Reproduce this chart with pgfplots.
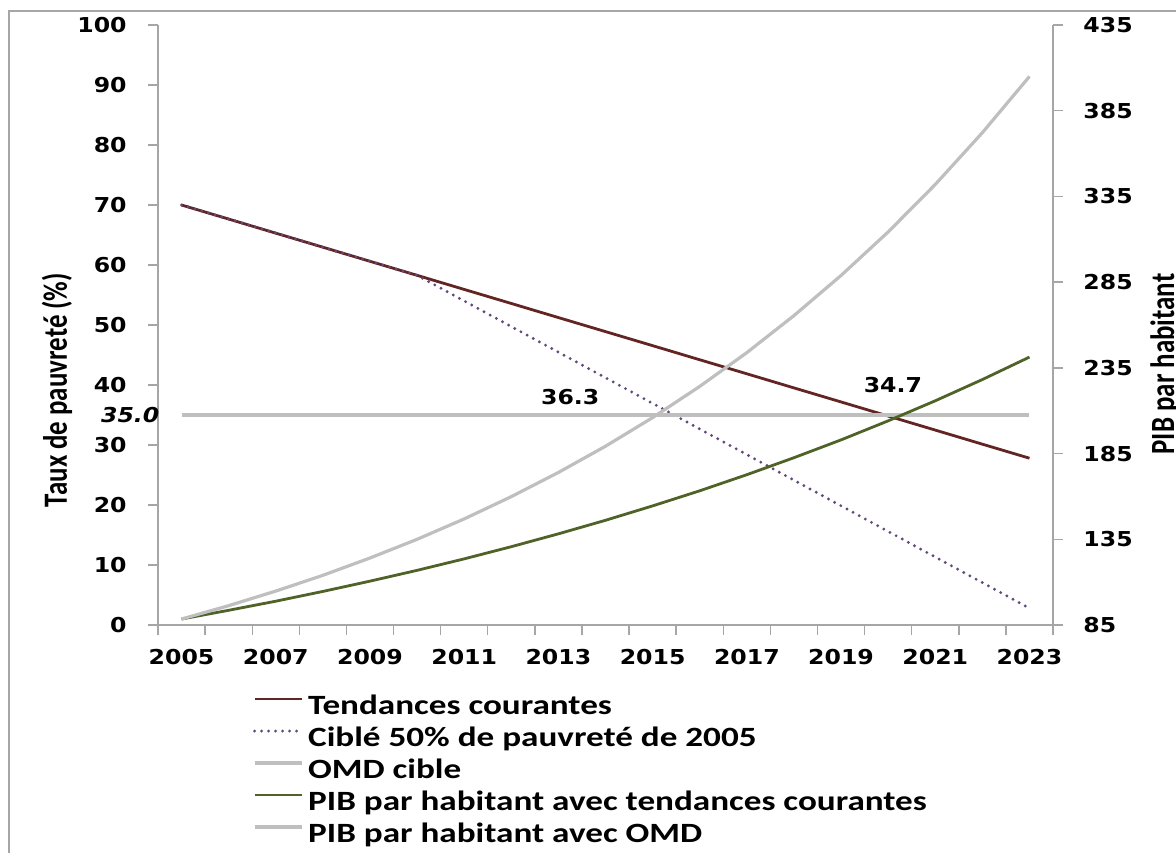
\documentclass[border=0pt]{standalone}
\usepackage{fontspec}
\setmainfont{Carlito}
\newfontfamily\legfont{Carlito}[FakeStretch=1.26]
\newfontfamily\labfont{Carlito}
\newfontfamily\numfont{DejaVu Sans}[FakeStretch=1.15]
\usepackage{pgfplots}
\usepackage{pgfplotstable}
\pgfplotsset{compat=1.18}

\definecolor{tcred}{HTML}{632523}
\definecolor{ciblepurple}{HTML}{604A7B}
\definecolor{lgray}{HTML}{BFBFBF}
\definecolor{pibgreen}{HTML}{4F6228}
\definecolor{axisgray}{HTML}{A6A6A6}

\pgfplotstableread{
i  year tc     cible  omd pib   pibomd
0  2005 70.00  70.00  35  88.5  88.5
1  2006 67.66  67.66  35  93.6  96.3
2  2007 65.31  65.31  35  98.9  104.8
3  2008 62.97  62.97  35  104.6 114.0
4  2009 60.62  60.62  35  110.6 124.1
5  2010 58.28  58.28  35  116.9 135.0
6  2011 55.93  54.01  35  123.6 146.9
7  2012 53.59  49.74  35  130.7 159.9
8  2013 51.24  45.48  35  138.2 174.0
9  2014 48.90  41.21  35  146.1 189.3
10 2015 46.56  36.94  35  154.5 206.0
11 2016 44.21  32.67  35  163.3 224.2
12 2017 41.87  28.40  35  172.7 243.9
13 2018 39.52  24.14  35  182.6 265.5
14 2019 37.18  19.87  35  193.0 288.9
15 2020 34.83  15.60  35  204.1 314.3
16 2021 32.49  11.33  35  215.8 342.0
17 2022 30.14  7.07   35  228.2 372.2
18 2023 27.80  2.80   35  241.3 405.0
}\data

\tikzset{
  tcline/.style={tcred, line width=1.4bp},
  cibleline/.style={ciblepurple, line width=1.6bp, line cap=round, dash pattern=on 0pt off 3.5bp},
  omdline/.style={lgray, line width=1.6bp},
  pibline/.style={pibgreen, line width=1.4bp},
  numtext/.style={font=\numfont\bfseries\fontsize{10.3}{12}\selectfont},
}

\pgfplotsset{
  twin/.style={
    at={(79bp,-312.5bp)}, anchor=south west, scale only axis,
    width=447.5bp, height=300bp,
    xmin=-0.5, xmax=18.5, clip=false,
    axis line style={draw=axisgray, line width=0.7bp},
    tick align=outside, major tick length=5bp,
    tick style={draw=axisgray, line width=0.7bp},
    tick label style={numtext, inner sep=0pt},
    /pgf/number format/assume math mode=true,
  },
}

\begin{document}
\begin{tikzpicture}[x=0.5bp, y=-0.5bp]
\useasboundingbox (0,0) rectangle (1176,852);
\draw[axisgray, line width=0.6bp] (9,870) -- (9,11) -- (1190,11);

\begin{axis}[twin,
  ymin=0, ymax=100,
  axis x line*=bottom, axis y line*=left,
  xtick={-0.5,0.5,...,18.5}, xticklabels={},
  extra x ticks={0,2,...,18},
  extra x tick labels={2005,2007,2009,2011,2013,2015,2017,2019,2021,2023},
  extra x tick style={major tick length=0pt},
  xticklabel style={anchor=base, yshift=-19.75bp},
  ytick={0,10,...,100},
  yticklabel style={anchor=east, xshift=-10.5bp},
]
\addplot[tcline] table[x=i, y=tc] {\data};
\addplot[cibleline] table[x=i, y=cible] {\data};
\addplot[omdline] table[x=i, y=omd] {\data};
\node[numtext] at (axis cs:8.25,38) {36.3};
\node[numtext] at (axis cs:15.1,40) {34.7};
\node[font=\numfont\bfseries\itshape\fontsize{10.3}{12}\selectfont] at (axis cs:-1.09,35) {35.0};
\end{axis}

\begin{axis}[twin,
  ymin=85, ymax=435,
  axis y line*=right, axis x line=none,
  ytick={85,135,...,435},
  yticklabel style={anchor=west, xshift=10bp},
  legend style={at={(0.1061,-0.1117)}, anchor=north west, draw=none, fill=none,
    inner sep=0pt, outer sep=0pt, row sep=0pt, column sep=2.5bp,
    font=\legfont\bfseries\fontsize{14}{16}\selectfont,
    nodes={inner sep=0pt, text height=11bp, text depth=5bp}},
  legend cell align=left,
  legend image code/.code={\draw[#1] (0bp,4.5bp) -- (23.5bp,4.5bp);},
]
\addlegendimage{tcline}
\addlegendentry{Tendances courantes}
\addlegendimage{cibleline}
\addlegendentry{Ciblé 50\% de pauvreté de 2005}
\addlegendimage{omdline}
\addlegendentry{OMD cible}
\addplot[pibline] table[x=i, y=pib] {\data};
\addlegendentry{PIB par habitant avec tendances courantes}
\addplot[omdline] table[x=i, y=pibomd] {\data};
\addlegendentry{PIB par habitant avec OMD}
\end{axis}

\node[rotate=90, inner sep=0pt] at (57,390)
  {\scalebox{1}[1.26]{\labfont\bfseries\fontsize{13.5}{16}\selectfont Taux de pauvreté (\%)}};
\node[rotate=90, anchor=north, inner sep=0pt] at (1150,364)
  {\scalebox{1}[1.26]{\labfont\bfseries\fontsize{13.5}{16}\selectfont PIB par habitant}};
\end{tikzpicture}
\end{document}
